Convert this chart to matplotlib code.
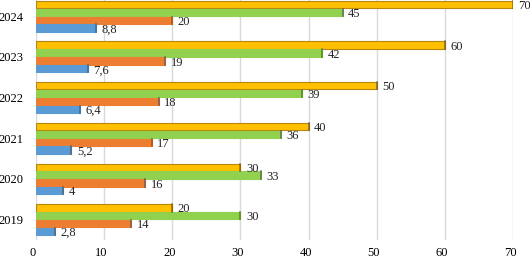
import matplotlib
matplotlib.use("Agg")
import matplotlib.pyplot as plt
import matplotlib.transforms as mtransforms
import numpy as np

years = ["2019", "2020", "2021", "2022", "2023", "2024"]
blue = [2.8, 4, 5.2, 6.4, 7.6, 8.8]
orange = [14, 16, 17, 18, 19, 20]
green = [30, 33, 36, 39, 42, 45]
yellow = [20, 30, 40, 50, 60, 70]
xticks = [0, 10, 20, 30, 40, 50, 60, 70]

plt.rcParams['font.family'] = ['Liberation Serif', 'DejaVu Serif']

fig = plt.figure(figsize=(5.3, 2.6), dpi=100)
ax = fig.add_axes([36/530, 20/260, 477/530, 240/260])

y = np.arange(len(years))
h = 0.18
series = [
    (yellow, 0.29, '#FFC000', '#B8860B'),
    (green, 0.10, '#92D050', '#92D050'),
    (orange, -0.10, '#ED7D31', '#ED7D31'),
    (blue, -0.29, '#5B9BD5', '#5B9BD5'),
]

def fmt(v):
    return ('%g' % v).replace('.', ',')

for vals, off, col, ec in series:
    ax.barh(y + off, vals, height=h, color=col, edgecolor=ec, linewidth=0.8, zorder=3)
    for yi, v in zip(y, vals):
        ax.plot([v, v], [yi + off - h/2, yi + off + h/2], color='#555555', lw=1.2, zorder=4, alpha=0.7)
        ax.text(v + 0.8, yi + off - 0.04, fmt(v), va='center', ha='left', fontsize=9,
                color='#222222', zorder=5, clip_on=False)

ax.set_xlim(0, 70)
ax.set_ylim(-0.5, 5.4)
ax.set_xticks(xticks)
ax.set_xticklabels([str(t) for t in xticks], fontsize=9)
ax.set_yticks(y)
ax.set_yticklabels(years, fontsize=9)
ax.tick_params(length=0, pad=5)
ax.tick_params(axis='y', pad=9)
shift = mtransforms.ScaledTranslation(-3/100, 0, fig.dpi_scale_trans)
for lbl in ax.get_xticklabels():
    lbl.set_transform(lbl.get_transform() + shift)
ax.grid(axis='x', color='#D9D9D9', lw=1, zorder=0)
for s in ax.spines.values():
    s.set_visible(False)

fig.savefig("out.png", dpi=100)
